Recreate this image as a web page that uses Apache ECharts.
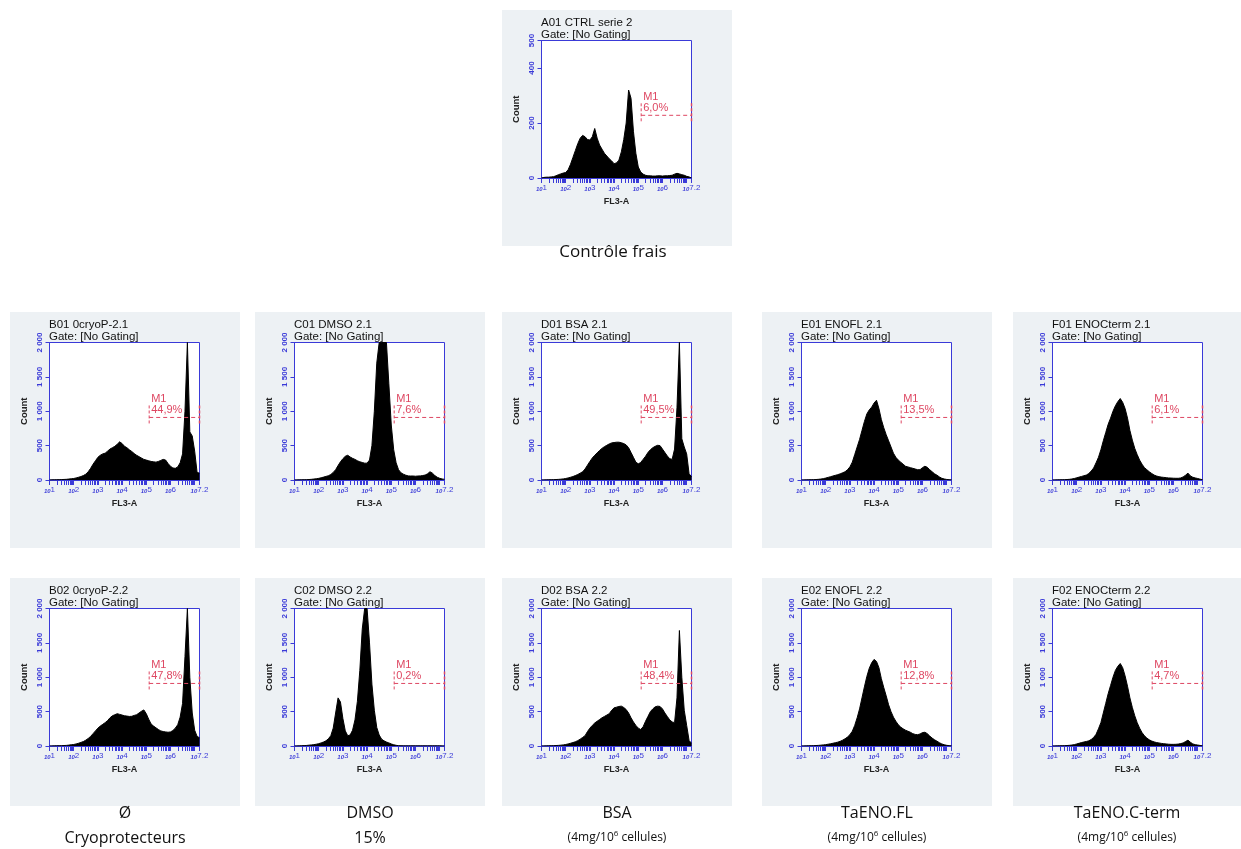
<!DOCTYPE html>
<html><head><meta charset="utf-8">
<script src="https://cdn.jsdelivr.net/npm/echarts@6/dist/echarts.min.js"></script>
<style>html,body{margin:0;padding:0;background:#fff}#c{width:1241px;height:849px}</style>
</head><body><div id="c"></div>
<script>
// ---- DATA ----
// log10(FL3-A) bin centres
const bins = [1.0,1.1,1.2,1.3,1.4,1.5,1.6,1.7,1.8,1.9,
  2.0,2.1,2.2,2.3,2.4,2.5,2.6,2.7,2.8,2.9,
  3.0,3.1,3.2,3.3,3.4,3.5,3.6,3.7,3.8,3.9,
  4.0,4.1,4.2,4.3,4.4,4.5,4.6,4.7,4.8,4.9,
  5.0,5.1,5.2,5.3,5.4,5.5,5.6,5.7,5.8,5.9,
  6.0,6.1,6.2,6.3,6.4,6.5,6.6,6.7,6.8,6.9,
  7.0,7.1,7.2];

const cA01 = [0,2,3,3,4,5,8,12,15,18, 20,30,50,75,100,125,145,155,150,140, 138,150,180,145,120,105,90,80,70,62, 52,55,65,95,140,200,320,290,170,90, 40,22,14,10,8,8,7,7,8,8, 7,8,8,9,10,14,17,15,12,10, 6,4,0];
const cB01 = [0,2,3,4,5,6,8,10,14,18, 22,30,40,50,65,85,120,170,230,280, 330,360,380,390,420,450,470,490,520,555, 530,490,470,440,415,385,360,340,320,300, 290,280,270,265,260,270,285,300,290,240, 200,175,170,190,250,380,1000,2000,700,640, 420,110,100];
const cC01 = [0,1,2,3,4,5,7,10,14,18, 24,32,42,52,62,80,110,150,210,265, 310,345,360,335,315,300,280,265,255,245, 245,290,500,1000,1700,2000,2000,2000,2000,1400, 800,440,250,150,105,85,70,60,58,58, 55,58,60,65,72,90,120,100,65,40, 25,15,10];
const cD01 = [0,1,2,3,4,5,7,9,12,16, 22,30,40,50,65,80,100,120,160,215, 270,320,360,395,430,460,485,505,525,540, 545,550,550,542,530,510,470,400,330,260, 235,255,300,345,400,440,470,490,505,500, 450,400,350,310,300,450,1050,2000,600,480, 380,90,50];
const cE01 = [0,1,2,3,4,5,7,10,14,20, 28,38,48,58,68,78,90,105,120,150, 190,260,370,480,590,720,850,960,1020,1060, 1120,1160,1040,880,760,660,570,480,390,330, 290,260,230,200,190,180,170,160,150,150, 180,200,185,150,120,90,70,45,25,15, 8,4,2];
const cF01 = [0,1,2,3,4,5,7,10,15,22, 32,42,52,62,72,95,130,175,250,330, 440,570,690,810,900,1000,1080,1140,1185,1130, 1040,900,720,580,460,370,290,230,180,150, 120,95,72,58,48,42,38,34,30,28, 26,25,25,30,45,70,100,60,40,30, 22,12,5];
const cB02 = [0,1,2,3,4,5,7,9,13,18, 22,30,40,52,65,85,110,140,180,220, 260,290,315,340,370,410,440,455,470,460, 450,440,435,430,432,445,455,480,505,525, 470,390,320,290,265,240,220,210,205,200, 205,225,260,310,420,620,1300,2000,1000,480, 230,140,120];
const cC02 = [0,1,2,4,6,8,12,16,20,26, 34,45,58,75,105,150,260,480,700,640, 400,220,150,160,230,380,650,1100,1700,2000, 2000,1500,900,520,270,160,100,75,58,45, 30,18,10,5,3,2,2,2,2,2, 2,2,2,2,2,2,2,2,2,2, 2,1,0];
const cD02 = [0,1,2,3,4,5,7,9,12,16, 22,30,40,50,62,78,100,125,150,210, 260,300,335,360,385,410,430,450,470,520, 555,565,575,580,560,530,480,410,350,300, 260,240,280,360,430,500,540,570,580,575, 540,480,430,380,350,340,700,1680,1000,520, 300,80,40];
const cE02 = [0,1,2,3,4,5,7,9,12,16, 20,26,32,40,48,56,68,85,105,130, 165,215,300,410,540,700,860,1010,1130,1210, 1260,1230,1140,980,850,730,600,500,420,360, 310,275,250,230,215,200,180,168,165,175, 195,200,180,145,115,90,70,48,30,18, 10,5,2];
const cF02 = [0,1,2,3,4,5,7,10,14,20, 30,40,50,58,66,75,95,125,170,250, 340,480,620,760,880,1000,1100,1160,1200,1140, 1020,870,700,560,440,340,260,195,150,115, 90,72,60,50,44,38,33,30,26,24, 24,25,28,35,45,65,85,55,30,20, 14,8,3];

const sampleIds = ['A01','B01','C01','D01','E01','F01','B02','C02','D02','E02','F02'];
const sampleNames = ['A01 CTRL serie 2','B01 0cryoP-2.1','C01 DMSO 2.1','D01 BSA 2.1','E01 ENOFL 2.1','F01 ENOCterm 2.1',
  'B02 0cryoP-2.2','C02 DMSO 2.2','D02 BSA 2.2','E02 ENOFL 2.2','F02 ENOCterm 2.2'];
const sampleCounts = [cA01,cB01,cC01,cD01,cE01,cF01,cB02,cC02,cD02,cE02,cF02];
const gatePct = ['6,0%','44,9%','7,6%','49,5%','13,5%','6,1%','47,8%','0,2%','48,4%','12,8%','4,7%'];
const gateStart = 5.12, gateEnd = 7.2;
const gateLevel = [228,910,910,910,910,910,910,910,910,910,910];
const yMax = [500,2000,2000,2000,2000,2000,2000,2000,2000,2000,2000];
const yTicks = [[0,200,400,500],[0,500,1000,1500,2000]];
const xLabelTicks = [1,2,3,4,5,6,7.2];
const groupLabels = [['Ø','Cryoprotecteurs'],['DMSO','15%'],['BSA','(4mg/10{sup|6} cellules)'],['TaENO.FL','(4mg/10{sup|6} cellules)'],['TaENO.C-term','(4mg/10{sup|6} cellules)']];
const topLabel = 'Contrôle frais';

// ---- LAYOUT ----
const colX = [10,255,502,762,1013];
const panelPos = [[502,10]].concat(colX.map(x=>[x,312])).concat(colX.map(x=>[x,578]));
const PW = 230, PH = 236;
const BLUE = '#3a3ad8', RED = '#de4762';

const minorTicks = [];
for (let n=1;n<=7;n++) for (let k=1;k<=9;k++){ const v=Math.log10(k*Math.pow(10,n)); if (v<=7.2001) minorTicks.push(+v.toFixed(4)); }
minorTicks.push(7.2);

const grids=[], xAxes=[], yAxes=[], series=[], titles=[], gfx=[];
const fmtY = v => String(v).replace(/\B(?=(\d{3})+(?!\d))/g,' ');

panelPos.forEach((p,i)=>{
  const [px,py] = p;
  const ph = (i>=6)? 228 : PH;
  gfx.push({type:'rect', z:-100, silent:true, shape:{x:px,y:py,width:(px+PW>1241?1241-px:PW),height:ph}, style:{fill:'#edf1f4'}});
  grids.push({left:px+39.5, top:py+30.5, width:150, height:137.5, show:true, backgroundColor:'#fff', borderColor:BLUE, borderWidth:1, containLabel:false});
  titles.push({text:sampleNames[i]+'\nGate: [No Gating]', left:px+39, top:py+6.5, padding:0,
    textStyle:{fontSize:11.5, fontWeight:'normal', color:'#111', fontFamily:'Liberation Sans', lineHeight:12}});
  xAxes.push({type:'value', gridIndex:i, min:1, max:7.2,
    axisLine:{show:true, onZero:false, lineStyle:{color:BLUE}},
    axisTick:{show:true, customValues:minorTicks, length:5, lineStyle:{color:BLUE, width:1}},
    axisLabel:{customValues:xLabelTicks, margin:6, color:BLUE, fontSize:8, fontFamily:'Liberation Sans',
      formatter:v=>'{b|10}{e|'+(Math.abs(v-7.2)<1e-6?'7.2':Math.round(v))+'}',
      rich:{b:{fontSize:6, color:BLUE, fontStyle:'italic', fontWeight:'bold'}, e:{fontSize:8, color:BLUE, verticalAlign:'bottom', padding:[0,0,3,0]}}},
    splitLine:{show:false},
    name:'FL3-A', nameLocation:'middle', nameGap:19,
    nameTextStyle:{fontSize:9, fontWeight:'bold', color:'#222', fontFamily:'Liberation Sans'}});
  const yt = yMax[i]===500 ? yTicks[0] : yTicks[1];
  yAxes.push({type:'value', gridIndex:i, min:0, max:yMax[i],
    axisLine:{show:true, lineStyle:{color:BLUE}},
    axisTick:{show:true, customValues:yt, length:4, lineStyle:{color:BLUE}},
    axisLabel:{customValues:yt, rotate:90, margin:6, color:BLUE, fontSize:8, fontWeight:'bold', fontFamily:'Liberation Sans', formatter:fmtY},
    splitLine:{show:false},
    name:'Count', nameLocation:'middle', nameGap:20, nameRotate:90,
    nameTextStyle:{fontSize:9.5, fontWeight:'bold', color:'#222', fontFamily:'Liberation Sans'}});
  series.push({type:'line', xAxisIndex:i, yAxisIndex:i, data:bins.map((x,j)=>[x, sampleCounts[i][j]]),
    symbol:'none', showSymbol:false, clip:true, animation:false,
    lineStyle:{color:'#000', width:1}, areaStyle:{color:'#000', opacity:1}});
  series.push({type:'custom', xAxisIndex:i, yAxisIndex:i, clip:false, animation:false, z:5,
    data:[[gateStart, gateEnd, gateLevel[i]]],
    renderItem:(params, api)=>{
      const a = api.coord([api.value(0), api.value(2)]);
      const b = api.coord([api.value(1), api.value(2)]);
      const st = {stroke:RED, lineWidth:1, lineDash:[4,3]};
      return {type:'group', children:[
        {type:'line', shape:{x1:a[0],y1:a[1],x2:b[0],y2:b[1]}, style:st},
        {type:'line', shape:{x1:a[0],y1:a[1]-12,x2:a[0],y2:a[1]+6}, style:{stroke:RED, lineWidth:1, lineDash:[3,2]}},
        {type:'line', shape:{x1:b[0],y1:b[1]-12,x2:b[0],y2:b[1]+6}, style:{stroke:RED, lineWidth:1.5, lineDash:[3,2]}},
        {type:'text', style:{text:'M1', x:a[0]+2, y:a[1]-18, fill:RED, fontSize:11, fontFamily:'Liberation Sans', verticalAlign:'middle', align:'left'}},
        {type:'text', style:{text:gatePct[i], x:a[0]+2, y:a[1]-7, fill:RED, fontSize:11, fontFamily:'Liberation Sans', verticalAlign:'middle', align:'left'}}
      ]};
    }});
});

// group labels
gfx.push({type:'text', style:{text:topLabel, x:613, y:252, fill:'#111', fontSize:17, fontFamily:'Open Sans', align:'center', verticalAlign:'middle'}});
const colCentre = [125,370,617,877,1127];
groupLabels.forEach((g,c)=>{
  gfx.push({type:'text', style:{text:g[0], x:colCentre[c], y:813, fill:'#111', fontSize:16, fontFamily:'Open Sans', align:'center', verticalAlign:'middle'}});
  const small = g[1].indexOf('{sup|')>=0;
  gfx.push({type:'text', style:{text: small ? '{s|'+g[1].replace('{sup|6}','}{sup|6}{s|')+'}' : g[1], x:colCentre[c], y:838,
    fill:'#111', fontSize:16, fontFamily:'Open Sans', align:'center', verticalAlign:'middle',
    rich:{s:{fontSize:12, fontFamily:'Open Sans', fill:'#111'}, sup:{fontSize:8, fontFamily:'Open Sans', fill:'#111', verticalAlign:'top', padding:[0,0,8,0]}}}});
});

const chart = echarts.init(document.getElementById('c'), null, {renderer:'canvas'});
chart.setOption({animation:false, backgroundColor:'#fff', title:titles, grid:grids, xAxis:xAxes, yAxis:yAxes, series:series, graphic:{elements:gfx}});
</script></body></html>
